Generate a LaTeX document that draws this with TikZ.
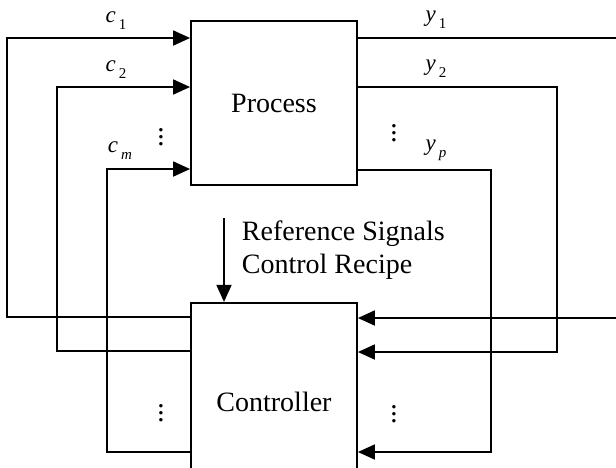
\documentclass[tikz,border=0pt]{standalone}
\usepackage{fontspec}
\setmainfont{Liberation Serif}
\usetikzlibrary{arrows.meta,positioning}

\newcommand{\sigl}[2]{\textit{#1}\kern3pt\raisebox{-7pt}{\fontsize{15}{15}\selectfont #2}}

\begin{document}
\begin{tikzpicture}[x=1pt,y=-1pt,line width=1.8pt,
    >={Triangle[length=17pt,width=15pt]},
    block/.style={draw,minimum width=166pt,inner sep=0pt,font=\fontsize{28}{33}\selectfont},
    lbl/.style={font=\fontsize{23}{23}\selectfont,inner sep=0pt},
    dots/.style={scale=1.7,font=\fontsize{17}{17}\selectfont,inner sep=0pt}]
  \path[use as bounding box,clip] (0,0) rectangle (616,467);
  \node[block,minimum height=164pt] (proc) at (274,103) {Process};
  \node[block,minimum height=199pt,below=116pt of proc] (ctrl) {Controller};
  % corners of the loops
  \coordinate (c1t) at (7,38);    \coordinate (c1b) at (7,317);
  \coordinate (c2t) at (57,87);   \coordinate (c2b) at (57,351);
  \coordinate (cmt) at (107,169); \coordinate (cmb) at (107,452);
  \coordinate (y1t) at (622,38);  \coordinate (y1b) at (622,318);
  \coordinate (y2t) at (557,87);  \coordinate (y2b) at (557,352);
  \coordinate (ypt) at (491,170); \coordinate (ypb) at (491,452);
  \coordinate (ref) at (224,218);
  % manipulated variables
  \draw[->] (ctrl.west |- c1b) -- (c1b) -- (c1t) -- (proc.west |- c1t);
  \draw[->] (ctrl.west |- c2b) -- (c2b) -- (c2t) -- (proc.west |- c2t);
  \draw[->] (ctrl.west |- cmb) -- (cmb) -- (cmt) -- (proc.west |- cmt);
  % measured outputs
  \draw[->] (proc.east |- y1t) -- (y1t) -- (y1b) -- (ctrl.east |- y1b);
  \draw[->] (proc.east |- y2t) -- (y2t) -- (y2b) -- (ctrl.east |- y2b);
  \draw[->] (proc.east |- ypt) -- (ypt) -- (ypb) -- (ctrl.east |- ypb);
  % reference input
  \draw[->] (ref) -- (ctrl.north -| ref);
  \node[anchor=west,align=left,inner sep=0pt,font=\fontsize{28}{33}\selectfont] (reftext) at (241,250)
    {Reference Signals\\Control Recipe};
  % labels
  \node[lbl] (lc1) at (116,21) {\sigl{c}{1}};
  \node[lbl] (lc2) at (116,70) {\sigl{c}{2}};
  \node[lbl] (lcm) at (120,151) {\sigl{c}{\textit{m}}};
  \node[lbl] (ly1) at (436,20) {\sigl{y}{1}};
  \node[lbl] (ly2) at (436,69) {\sigl{y}{2}};
  \node[lbl] (lyp) at (436,150) {\sigl{y}{\textit{p}}};
  \node[dots] (d1) at (161,132) {$\vdots$};
  \node[dots] (d2) at (394,128) {$\vdots$};
  \node[dots] (d3) at (161,408) {$\vdots$};
  \node[dots] (d4) at (394,409) {$\vdots$};
\end{tikzpicture}
\end{document}
